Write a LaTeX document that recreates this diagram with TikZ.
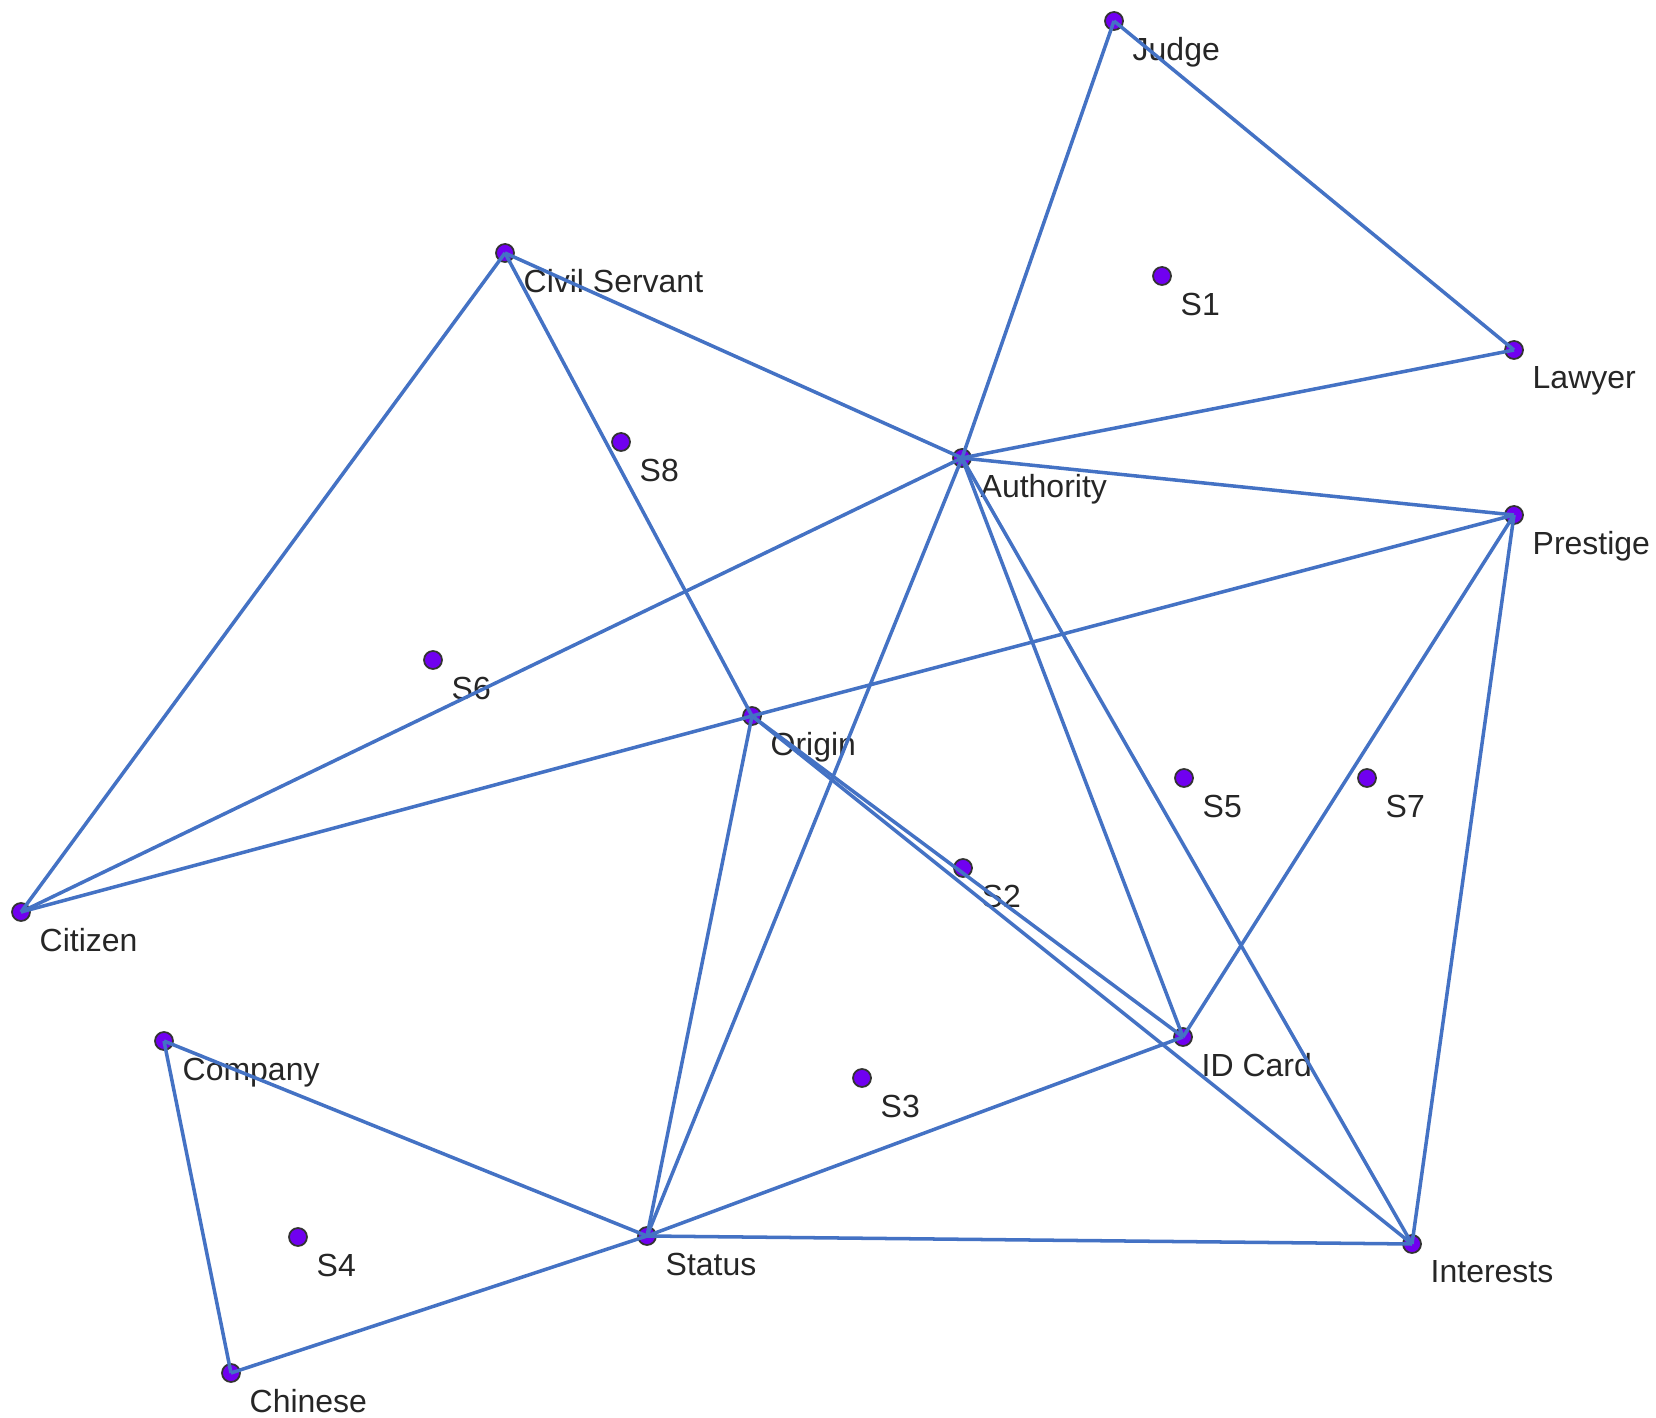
\documentclass[tikz,border=0pt]{standalone}
\usepackage{fontspec}
\setmainfont{Liberation Sans}
\usetikzlibrary{positioning}
\definecolor{edgeblue}{RGB}{68,114,196}
\definecolor{ptviolet}{RGB}{112,0,240}

\begin{document}
\begin{tikzpicture}[
  font=\fontsize{9.1}{11}\selectfont,
  pt/.style={circle, draw=black!80, fill=ptviolet, line width=0.5pt, inner sep=0pt, minimum size=1.8mm},
  lbl/.style={inner sep=0pt, text=black!85, below right=0.9mm and 1.1mm of #1},
  edge/.style={draw=edgeblue, line width=1pt}
]
\useasboundingbox (0,0) rectangle (16.56,-14.18);

\node[pt] (judge) at (11.14,-0.21) {};
\node[pt] (civil) at (5.05,-2.53) {};
\node[pt] (s1) at (11.62,-2.76) {};
\node[pt] (lawyer) at (15.14,-3.50) {};
\node[pt] (s8) at (6.21,-4.42) {};
\node[pt] (auth) at (9.62,-4.58) {};
\node[pt] (prestige) at (15.14,-5.15) {};
\node[pt] (s6) at (4.33,-6.60) {};
\node[pt] (origin) at (7.52,-7.16) {};
\node[pt] (s5) at (11.84,-7.78) {};
\node[pt] (s7) at (13.67,-7.78) {};
\node[pt] (s2) at (9.63,-8.68) {};
\node[pt] (citizen) at (0.21,-9.12) {};
\node[pt] (company) at (1.64,-10.41) {};
\node[pt] (idcard) at (11.83,-10.37) {};
\node[pt] (s3) at (8.62,-10.78) {};
\node[pt] (s4) at (2.98,-12.37) {};
\node[pt] (status) at (6.47,-12.36) {};
\node[pt] (interests) at (14.12,-12.44) {};
\node[pt] (chinese) at (2.31,-13.73) {};

\node[lbl=judge] (judgeL) {Judge};
\node[lbl=civil] (civilL) {Civil Servant};
\node[lbl=s1] (s1L) {S1};
\node[lbl=lawyer] (lawyerL) {Lawyer};
\node[lbl=s8] (s8L) {S8};
\node[lbl=auth] (authL) {Authority};
\node[lbl=prestige] (prestigeL) {Prestige};
\node[lbl=s6] (s6L) {S6};
\node[lbl=origin] (originL) {Origin};
\node[lbl=s5] (s5L) {S5};
\node[lbl=s7] (s7L) {S7};
\node[lbl=s2] (s2L) {S2};
\node[lbl=citizen] (citizenL) {Citizen};
\node[lbl=company] (companyL) {Company};
\node[lbl=idcard] (idcardL) {ID Card};
\node[lbl=s3] (s3L) {S3};
\node[lbl=s4] (s4L) {S4};
\node[lbl=status] (statusL) {Status};
\node[lbl=interests] (interestsL) {Interests};
\node[lbl=chinese] (chineseL) {Chinese};

\draw[edge] (judge.center) -- (lawyer.center);
\draw[edge] (judge.center) -- (auth.center);
\draw[edge] (civil.center) -- (auth.center);
\draw[edge] (civil.center) -- (citizen.center);
\draw[edge] (civil.center) -- (origin.center);
\draw[edge] (auth.center) -- (lawyer.center);
\draw[edge] (auth.center) -- (prestige.center);
\draw[edge] (auth.center) -- (citizen.center);
\draw[edge] (auth.center) -- (status.center);
\draw[edge] (auth.center) -- (idcard.center);
\draw[edge] (auth.center) -- (interests.center);
\draw[edge] (citizen.center) -- (origin.center);
\draw[edge] (origin.center) -- (prestige.center);
\draw[edge] (origin.center) -- (idcard.center);
\draw[edge] (origin.center) -- (interests.center);
\draw[edge] (origin.center) -- (status.center);
\draw[edge] (prestige.center) -- (idcard.center);
\draw[edge] (prestige.center) -- (interests.center);
\draw[edge] (idcard.center) -- (status.center);
\draw[edge] (status.center) -- (interests.center);
\draw[edge] (status.center) -- (company.center);
\draw[edge] (status.center) -- (chinese.center);
\draw[edge] (company.center) -- (chinese.center);
\end{tikzpicture}
\end{document}
